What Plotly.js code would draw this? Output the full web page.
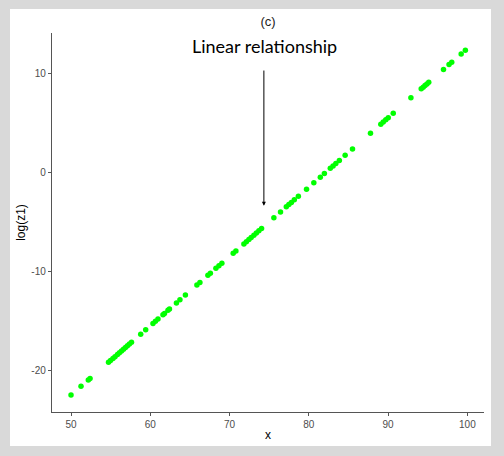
<!DOCTYPE html>
<html>
<head>
<meta charset="utf-8">
<script src="https://cdn.plot.ly/plotly-3.0.1.min.js"></script>
<style>
html,body{margin:0;padding:0;background:#d9d9d9;width:504px;height:456px;overflow:hidden;}
#plot{position:absolute;left:10px;top:9px;width:481px;height:437px;background:#fff;}
</style>
</head>
<body>
<div id="plot"></div>
<script>
var xVals = [50.00,51.26,52.18,52.40,54.73,54.98,55.29,55.55,55.86,56.11,56.37,56.62,56.87,57.12,57.37,57.63,58.79,59.42,60.34,60.65,60.97,61.60,61.79,62.23,62.42,63.30,63.74,64.43,65.88,66.26,67.27,67.58,68.28,68.66,69.03,70.46,70.80,71.81,72.12,72.44,72.73,73.07,73.38,73.70,74.04,75.59,76.43,77.16,77.48,77.80,78.17,78.68,79.71,80.63,81.45,81.96,82.71,83.06,83.41,83.85,84.58,85.51,87.78,89.08,89.39,89.71,90.02,90.65,92.88,94.18,94.43,94.66,94.90,95.13,96.99,97.69,98.03,99.22,99.75];
var logZ1 = [-22.53,-21.65,-21.00,-20.85,-19.22,-19.04,-18.83,-18.65,-18.43,-18.25,-18.07,-17.90,-17.72,-17.55,-17.37,-17.19,-16.38,-15.94,-15.29,-15.08,-14.85,-14.41,-14.28,-13.97,-13.84,-13.22,-12.91,-12.43,-11.41,-11.15,-10.44,-10.22,-9.73,-9.47,-9.21,-8.21,-7.97,-7.26,-7.05,-6.82,-6.62,-6.38,-6.16,-5.94,-5.70,-4.62,-4.03,-3.52,-3.29,-3.07,-2.81,-2.45,-1.73,-1.09,-0.52,-0.16,0.37,0.61,0.86,1.17,1.68,2.33,3.92,4.83,5.04,5.27,5.48,5.93,7.49,8.40,8.57,8.73,8.90,9.06,10.36,10.85,11.09,11.92,12.30];
var xTicks = [50,60,70,80,90,100];
var yTicks = [-20,-10,0,10];
var labelText = "Linear relationship";
var labelPos = [74.4, 12.7];
var arrowFrom = [74.33, 10.4];
var arrowTo = [74.33, -3.4];

var trace = {
  x: xVals, y: logZ1, type: 'scatter', mode: 'markers',
  marker: {color: '#00ff00', size: 5.5, line: {width: 0}},
  hoverinfo: 'none'
};
var axisCommon = {
  showgrid: false, zeroline: false, showline: true, linecolor: '#555555', linewidth: 1.2,
  ticks: 'outside', ticklen: 3, tickcolor: '#555555', tickwidth: 1,
  tickfont: {family: 'Liberation Sans, Arial, sans-serif', size: 10, color: '#4d4d4d'}
};
var layout = {
  width: 481, height: 437,
  margin: {l: 42, r: 7, t: 24, b: 34},
  paper_bgcolor: '#ffffff', plot_bgcolor: '#ffffff',
  showlegend: false,
  title: {text: '(c)', x: 0.5, xref: 'paper', xanchor: 'center', y: 0.9725, yref: 'container', yanchor: 'middle',
    font: {family: 'Liberation Sans, Arial, sans-serif', size: 13, color: '#222', weight: 'normal'}},
  xaxis: Object.assign({}, axisCommon, {range: [47.6, 102.1], tickvals: xTicks, ticktext: xTicks.map(String),
    title: {text: 'x', standoff: 1, font: {family: 'Liberation Sans, Arial, sans-serif', size: 12, color: '#000'}}}),
  yaxis: Object.assign({}, axisCommon, {range: [-24.24, 14.04], tickvals: yTicks, ticktext: yTicks.map(String),
    title: {text: 'log(z1)', standoff: 3, font: {family: 'Liberation Sans, Arial, sans-serif', size: 12, color: '#000'}}}),
  annotations: [
    {x: labelPos[0], y: labelPos[1], xref: 'x', yref: 'y', text: labelText, showarrow: false,
     font: {family: 'Lato, sans-serif', size: 18, color: '#000'}, xanchor: 'center', yanchor: 'middle'},
    {x: arrowTo[0], y: arrowTo[1], ax: arrowFrom[0], ay: arrowFrom[1], xref: 'x', yref: 'y', axref: 'x', ayref: 'y',
     text: '', showarrow: true, arrowhead: 2, arrowsize: 0.8, arrowwidth: 1, arrowcolor: '#000'}
  ]
};
Plotly.newPlot('plot', [trace], layout, {displayModeBar: false, staticPlot: true});
</script>
</body>
</html>
